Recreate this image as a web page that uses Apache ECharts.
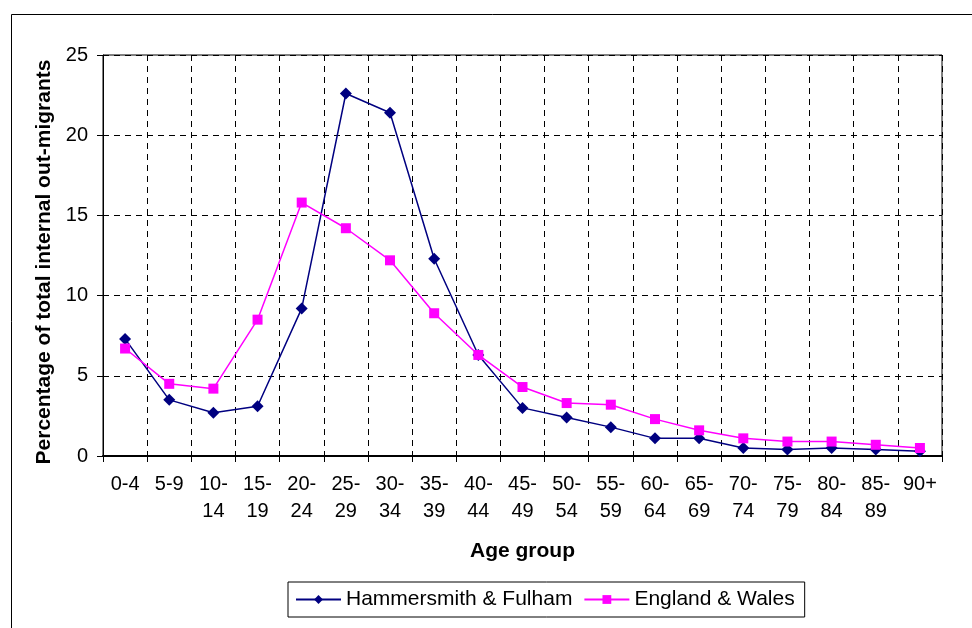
<!DOCTYPE html>
<html>
<head>
<meta charset="utf-8">
<script src="https://cdn.jsdelivr.net/npm/echarts@6/dist/echarts.min.js"></script>
<style>html,body{margin:0;padding:0;background:#fff;}#c{width:972px;height:628px;}</style>
</head>
<body>
<div id="c"></div>
<script>
const categories = ['0-4','5-9','10-\n14','15-\n19','20-\n24','25-\n29','30-\n34','35-\n39','40-\n44','45-\n49','50-\n54','55-\n59','60-\n64','65-\n69','70-\n74','75-\n79','80-\n84','85-\n89','90+'];
const hammersmith = [7.3,3.5,2.7,3.1,9.2,22.6,21.4,12.3,6.3,3.0,2.4,1.8,1.1,1.1,0.5,0.4,0.5,0.4,0.3];
const englandWales = [6.7,4.5,4.2,8.5,15.8,14.2,12.2,8.9,6.3,4.3,3.3,3.2,2.3,1.6,1.1,0.9,0.9,0.7,0.5];
const seriesNames = ['Hammersmith & Fulham','England & Wales'];
const yTicks = {min:0,max:25,interval:5};
const yTitle = 'Percentage of total internal out-migrants';
const xTitle = 'Age group';

const FONT = 'Arial, "Liberation Sans", sans-serif';
const chart = echarts.init(document.getElementById('c'), null, {renderer:'canvas'});
chart.setOption({
  animation:false,
  backgroundColor:'#fff',
  textStyle:{fontFamily:FONT},
  graphic:[
    {type:'rect',left:9,top:12,shape:{width:1000,height:700},style:{fill:'none',stroke:'#000',lineWidth:1},silent:true},
    {type:'text',x:44,y:262,rotation:Math.PI/2,silent:true,
     style:{text:yTitle,fill:'#000',font:'bold 21px Arial, "Liberation Sans", sans-serif',textAlign:'center',textVerticalAlign:'middle'}}
  ],
  grid:{left:103,right:30,top:55,bottom:172,show:true,borderColor:'#000',borderWidth:1,backgroundColor:'transparent'},
  legend:{
    left:288, top:582, padding:[7,10,7,7], itemGap:11, itemWidth:45, itemHeight:11,
    borderColor:'#000', borderWidth:1,
    textStyle:{fontSize:21,color:'#000',fontFamily:FONT},
    data:seriesNames
  },
  xAxis:{
    type:'category', data:categories, boundaryGap:true,
    name:xTitle, nameLocation:'middle', nameGap:85,
    nameTextStyle:{fontSize:21,fontWeight:'bold',color:'#000',fontFamily:FONT},
    axisLine:{lineStyle:{color:'#000',width:2}},
    axisTick:{show:true,length:6,lineStyle:{color:'#000'}},
    axisLabel:{interval:0,fontSize:20,color:'#000',lineHeight:27,margin:15,fontFamily:FONT},
    splitLine:{show:true,interval:0,lineStyle:{color:'#000',type:[6,5],width:1}}
  },
  yAxis:{
    type:'value', min:yTicks.min, max:yTicks.max, interval:yTicks.interval,
    axisLine:{show:true,lineStyle:{color:'#000',width:1}},
    axisTick:{show:true,length:6,lineStyle:{color:'#000'}},
    axisLabel:{fontSize:20,color:'#000',margin:15,fontFamily:FONT},
    splitLine:{show:true,lineStyle:{color:'#000',type:[6,5],width:1}}
  },
  series:[
    {name:seriesNames[0],type:'line',data:hammersmith,symbol:'diamond',symbolSize:12,
     lineStyle:{color:'#000080',width:1.5},itemStyle:{color:'#000080'},z:2},
    {name:seriesNames[1],type:'line',data:englandWales,symbol:'rect',symbolSize:10,
     lineStyle:{color:'#FF00FF',width:1.5},itemStyle:{color:'#FF00FF'},z:3}
  ]
});
</script>
</body>
</html>
